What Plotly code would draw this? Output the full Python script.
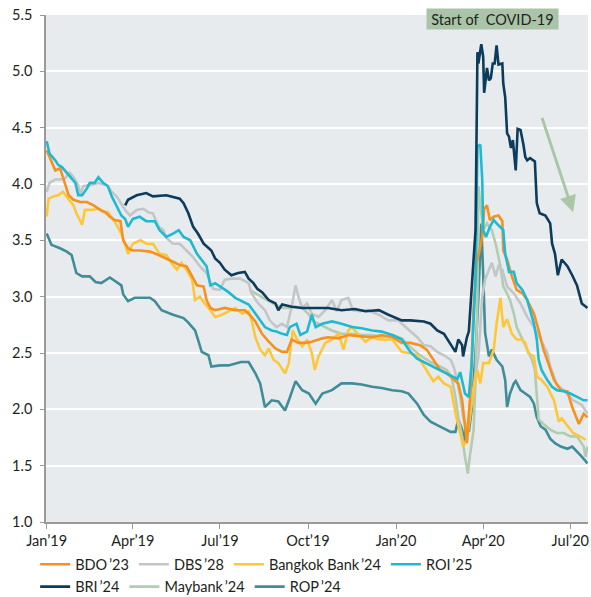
import pandas as pd
import plotly.graph_objects as go

BASE = pd.Timestamp("2019-01-01")

# ---- data: days since 1 Jan 2019 and yield values (%) ----
bdo_days = [0,5,9,14,19,23,28,35,42,49,56,61,66,71,77,80,85,90,98,108,117,125,132,139,146,152,157,164,167,171,176,186,197,207,212,218,225,232,239,246,251,256,263,270,277,288,294,305,315,326,340,350,361,371,380,390,397,404,411,418,425,430,434,437,439,443,446,449,452,455,457,460,463,467,472,476,477,481,486,491,497,502,509,514,519,524,530,537,544,549,556,561,565]
bdo_vals = [4.30,4.20,4.12,4.14,4.01,3.90,3.86,3.84,3.84,3.81,3.77,3.75,3.71,3.68,3.67,3.50,3.43,3.41,3.41,3.40,3.37,3.34,3.31,3.28,3.27,3.18,3.10,3.09,2.97,2.90,2.88,2.90,2.88,2.88,2.84,2.78,2.67,2.60,2.54,2.51,2.51,2.62,2.59,2.59,2.60,2.63,2.64,2.63,2.66,2.65,2.64,2.66,2.64,2.59,2.59,2.57,2.53,2.44,2.35,2.32,2.27,2.23,2.08,1.82,1.70,2.20,2.90,3.30,3.40,3.53,3.78,3.81,3.68,3.71,3.72,3.67,3.41,3.33,3.18,3.06,3.03,2.97,2.85,2.70,2.53,2.41,2.26,2.17,2.16,2.02,1.87,1.96,1.93]

dbs_days = [0,3,9,14,19,24,28,33,35,38,45,54,63,68,73,77,82,87,94,101,106,111,117,122,125,132,139,146,153,160,167,174,181,186,193,202,211,214,221,228,233,240,246,251,256,260,263,267,272,277,284,291,298,303,308,315,320,326,336,347,357,367,375,380,387,394,401,408,415,422,425,428,432,435,439,446,451,455,458,462,465,469,472,476,481,488,495,502,509,516,523,526,533,540,550,559,565]
dbs_vals = [3.93,4.01,4.04,4.04,4.05,4.10,4.06,3.99,3.90,3.98,3.99,4.01,3.99,3.93,3.89,3.84,3.77,3.72,3.77,3.78,3.75,3.74,3.62,3.59,3.52,3.47,3.47,3.41,3.35,3.27,3.21,3.07,3.06,3.15,3.16,3.16,3.12,3.03,2.94,2.88,2.79,2.73,2.76,2.73,2.91,3.10,3.00,2.90,2.94,2.85,2.82,2.88,2.97,2.87,2.97,2.99,2.88,2.87,2.88,2.84,2.79,2.79,2.73,2.70,2.64,2.57,2.56,2.51,2.48,2.44,2.38,2.29,2.11,1.93,1.82,2.20,2.47,3.00,3.15,3.24,3.30,3.18,3.27,3.24,3.09,3.03,2.94,2.82,2.73,2.62,2.50,2.38,2.22,2.17,2.08,2.04,1.96]

bbl_days = [0,2,7,12,17,23,28,31,37,40,47,54,59,64,68,73,78,82,85,90,98,104,111,118,125,132,136,141,146,152,155,160,165,171,176,183,190,197,204,211,214,218,223,228,232,237,242,249,253,257,261,267,272,277,280,284,291,298,305,310,315,319,326,333,340,347,354,361,371,378,387,394,399,404,409,415,422,425,428,432,435,439,442,446,450,453,456,462,467,470,474,477,481,486,491,496,500,503,509,512,517,523,530,535,538,544,550,557,563]
bbl_vals = [3.71,3.87,3.89,3.90,3.93,3.86,3.81,3.74,3.64,3.77,3.77,3.78,3.75,3.75,3.70,3.64,3.56,3.46,3.38,3.47,3.50,3.47,3.47,3.38,3.37,3.28,3.24,3.30,3.24,3.15,2.97,3.00,2.94,2.88,2.82,2.84,2.87,2.90,2.85,2.87,2.79,2.64,2.53,2.48,2.54,2.44,2.41,2.32,2.41,2.70,2.63,2.56,2.62,2.50,2.35,2.47,2.59,2.62,2.67,2.53,2.70,2.73,2.66,2.60,2.64,2.62,2.62,2.62,2.51,2.50,2.48,2.38,2.32,2.25,2.29,2.23,2.20,2.05,1.93,1.79,1.67,1.73,1.93,2.17,2.35,2.23,2.41,2.41,2.53,2.76,2.99,2.73,2.80,2.67,2.62,2.62,2.59,2.50,2.47,2.29,2.26,2.20,2.08,1.89,1.92,1.85,1.79,1.76,1.73]

roi_days = [0,3,9,12,16,21,26,30,33,37,42,45,50,54,59,64,68,73,78,82,85,90,97,104,113,118,125,132,138,143,150,157,164,167,171,176,183,190,197,204,211,218,223,228,235,240,246,251,254,261,265,272,277,281,288,298,308,319,329,340,350,361,371,380,387,394,401,408,415,422,429,432,435,437,441,444,448,450,453,455,456,459,463,467,470,474,477,479,483,488,491,497,502,505,509,512,514,517,523,528,533,540,547,554,561,565]
roi_vals = [4.38,4.27,4.21,4.17,4.15,4.10,4.06,4.01,3.90,3.90,3.96,4.01,4.01,4.06,4.01,3.98,3.89,3.81,3.72,3.69,3.62,3.69,3.71,3.67,3.67,3.59,3.53,3.56,3.59,3.53,3.50,3.38,3.30,3.27,3.10,3.12,3.08,3.04,2.99,2.96,2.93,2.85,2.79,2.73,2.70,2.69,2.67,2.66,2.73,2.76,2.66,2.69,2.84,2.73,2.76,2.78,2.76,2.73,2.72,2.70,2.69,2.66,2.62,2.51,2.45,2.42,2.39,2.36,2.33,2.30,2.27,2.33,2.23,2.14,2.11,2.41,3.15,4.33,4.35,4.04,3.59,3.53,3.62,3.68,3.65,3.62,3.59,3.38,3.22,3.22,3.12,3.06,2.97,2.88,2.76,2.62,2.44,2.35,2.26,2.20,2.17,2.16,2.14,2.11,2.08,2.08]

bri_days = [82,85,94,104,111,125,139,143,148,153,158,164,172,176,181,186,193,200,207,211,216,220,225,232,239,242,246,256,267,281,294,308,322,333,347,357,371,380,394,401,408,415,422,427,430,434,435,439,441,444,448,450,451,454,456,457,460,462,464,466,468,470,472,476,477,479,481,483,485,487,490,492,495,498,500,502,505,510,512,515,521,526,528,531,534,538,544,549,554,559,565]
bri_vals = [3.81,3.86,3.90,3.92,3.89,3.90,3.87,3.83,3.74,3.62,3.56,3.47,3.41,3.34,3.30,3.24,3.19,3.21,3.22,3.16,3.12,3.07,3.04,2.97,2.94,2.88,2.93,2.91,2.90,2.90,2.90,2.88,2.89,2.87,2.88,2.84,2.79,2.79,2.78,2.76,2.70,2.67,2.57,2.51,2.62,2.57,2.47,2.64,2.69,3.06,3.59,5.17,5.07,5.24,5.13,4.81,5.03,4.92,4.94,5.07,5.07,5.23,5.06,5.07,4.89,4.77,4.45,4.42,4.32,4.39,4.12,4.49,4.48,4.35,4.24,4.21,4.23,4.20,3.83,3.74,3.72,3.65,3.47,3.38,3.19,3.33,3.27,3.19,3.10,2.94,2.90]

may_days = [212,218,225,232,239,246,253,260,267,274,279,284,291,298,308,319,329,340,350,361,371,380,390,401,411,418,423,427,430,434,437,440,442,446,448,450,451,453,456,460,465,469,474,477,479,484,488,491,497,502,507,510,512,514,519,526,533,540,547,554,561,563,565]
may_vals = [3.06,3.03,2.99,2.96,2.93,2.90,2.90,2.91,2.90,2.84,2.78,2.76,2.73,2.70,2.67,2.67,2.66,2.66,2.64,2.66,2.63,2.55,2.48,2.42,2.38,2.35,2.29,2.11,1.93,1.76,1.58,1.43,1.58,1.82,2.26,3.00,3.98,3.80,3.59,3.65,3.59,3.47,3.27,3.09,3.06,2.97,2.85,2.73,2.62,2.53,2.44,2.35,2.08,1.91,1.87,1.82,1.79,1.79,1.76,1.76,1.67,1.58,1.67]

rop_days = [0,5,14,21,26,28,31,37,45,51,57,66,73,78,80,85,92,108,113,120,132,143,148,155,158,162,169,172,181,190,203,211,218,223,228,235,242,249,253,260,267,274,281,288,298,308,319,329,340,350,361,371,378,385,387,394,401,408,415,422,427,430,434,435,438,441,444,448,451,454,456,458,462,465,470,476,479,481,484,488,490,495,500,505,509,512,516,521,526,531,537,544,549,554,559,565]
rop_vals = [3.56,3.46,3.43,3.40,3.37,3.30,3.21,3.18,3.18,3.13,3.12,3.17,3.13,3.10,3.02,2.96,2.99,2.99,2.96,2.88,2.84,2.81,2.77,2.70,2.62,2.51,2.48,2.38,2.39,2.39,2.42,2.42,2.32,2.23,2.02,2.08,2.07,1.99,2.08,2.25,2.17,2.14,2.05,2.14,2.17,2.23,2.23,2.22,2.20,2.19,2.17,2.16,2.14,2.07,2.05,1.95,1.89,1.86,1.83,1.80,1.80,1.91,1.82,1.70,1.85,1.80,2.00,2.50,3.00,3.65,3.20,2.68,2.47,2.53,2.44,2.38,2.26,2.02,2.14,2.23,2.25,2.17,2.14,2.11,2.05,1.93,1.85,1.82,1.74,1.70,1.67,1.65,1.67,1.62,1.58,1.52]

tick_dates = ["2019-01-01", "2019-04-01", "2019-07-01", "2019-10-01",
              "2020-01-01", "2020-04-01", "2020-07-01"]
tick_labels = ["Jan\u201919", "Apr\u201919", "Jul\u201919", "Oct\u201919",
               "Jan\u201920", "Apr\u201920", "Jul\u201920"]

# name, days, values, colour, legend row, rank
series = [
    ("ROP\u2009\u201924", rop_days, rop_vals, "#3e8d98", "legend2", 3),
    ("Maybank\u2009\u201924", may_days, may_vals, "#b3ccb1", "legend2", 2),
    ("DBS\u2009\u201928", dbs_days, dbs_vals, "#c3c6c9", "legend", 2),
    ("Bangkok Bank\u2009\u201924", bbl_days, bbl_vals, "#fec739", "legend", 3),
    ("BDO\u2009\u201923", bdo_days, bdo_vals, "#f5911e", "legend", 1),
    ("ROI\u2009\u201925", roi_days, roi_vals, "#1fbad2", "legend", 4),
    ("BRI\u2009\u201924", bri_days, bri_vals, "#0c3c5c", "legend2", 1),
]

FONT = "Lato"
TXT = "#231f20"

fig = go.Figure()
for name, days, vals, col, leg, rank in series:
    assert len(days) == len(vals), name
    dates = [BASE + pd.Timedelta(days=d) for d in days]
    fig.add_trace(go.Scatter(
        x=dates, y=vals, mode="lines", name=name,
        line=dict(color=col, width=2.6),
        legend=leg, legendrank=rank, hoverinfo="skip"))

legend_common = dict(orientation="h", xanchor="left", yanchor="top",
                     font=dict(family=FONT, size=14.5, color=TXT),
                     bgcolor="rgba(0,0,0,0)", itemwidth=30,
                     tracegroupgap=0)

fig.update_layout(
    width=591, height=597,
    margin=dict(l=46, r=3, t=15, b=75, autoexpand=False),
    paper_bgcolor="white", plot_bgcolor="#e8ebee",
    font=dict(family=FONT, size=14, color=TXT),
    legend=dict(x=-0.02, y=-0.052, **legend_common),
    legend2=dict(x=-0.02, y=-0.096, **legend_common),
    xaxis=dict(
        type="date",
        range=[BASE - pd.Timedelta(hours=17), BASE + pd.Timedelta(hours=565.5 * 24)],
        tickvals=tick_dates, ticktext=tick_labels,
        ticks="outside", ticklen=5, tickwidth=1.3, tickcolor="#9a9a9a",
        showline=True, linecolor="#9a9a9a", linewidth=1.5,
        showgrid=False, zeroline=False, automargin=False,
        tickfont=dict(family=FONT, size=14.5, color=TXT),
    ),
    yaxis=dict(
        range=[1.0, 5.5], dtick=0.5, tick0=1.0, tickformat=".1f",
        ticks="outside", ticklen=4, tickwidth=1.3, tickcolor="#9a9a9a",
        showline=True, linecolor="#9a9a9a", linewidth=1.5,
        showgrid=True, gridcolor="white", gridwidth=1.6, zeroline=False,
        automargin=False,
        tickfont=dict(family=FONT, size=14.5, color=TXT),
        ticklabelstandoff=5,
    ),
)

# COVID label box
fig.add_annotation(
    xref="paper", yref="paper", x=0.824, y=0.992,
    xanchor="center", yanchor="middle",
    text="Start of  COVID-19", showarrow=False,
    font=dict(family=FONT, size=14.5, color=TXT),
    bgcolor="#a9c4a7", width=131, height=20, borderpad=0)

# downward arrow
fig.add_annotation(
    x=BASE + pd.Timedelta(days=550), y=3.75,
    ax=BASE + pd.Timedelta(days=517), ay=4.60,
    xref="x", yref="y", axref="x", ayref="y",
    text="", showarrow=True, arrowhead=2, arrowsize=1.1,
    arrowwidth=3, arrowcolor="#a9c6a6")

fig.write_html("out.html", config={"displayModeBar": False},
               post_script="document.body.style.margin='0';")
